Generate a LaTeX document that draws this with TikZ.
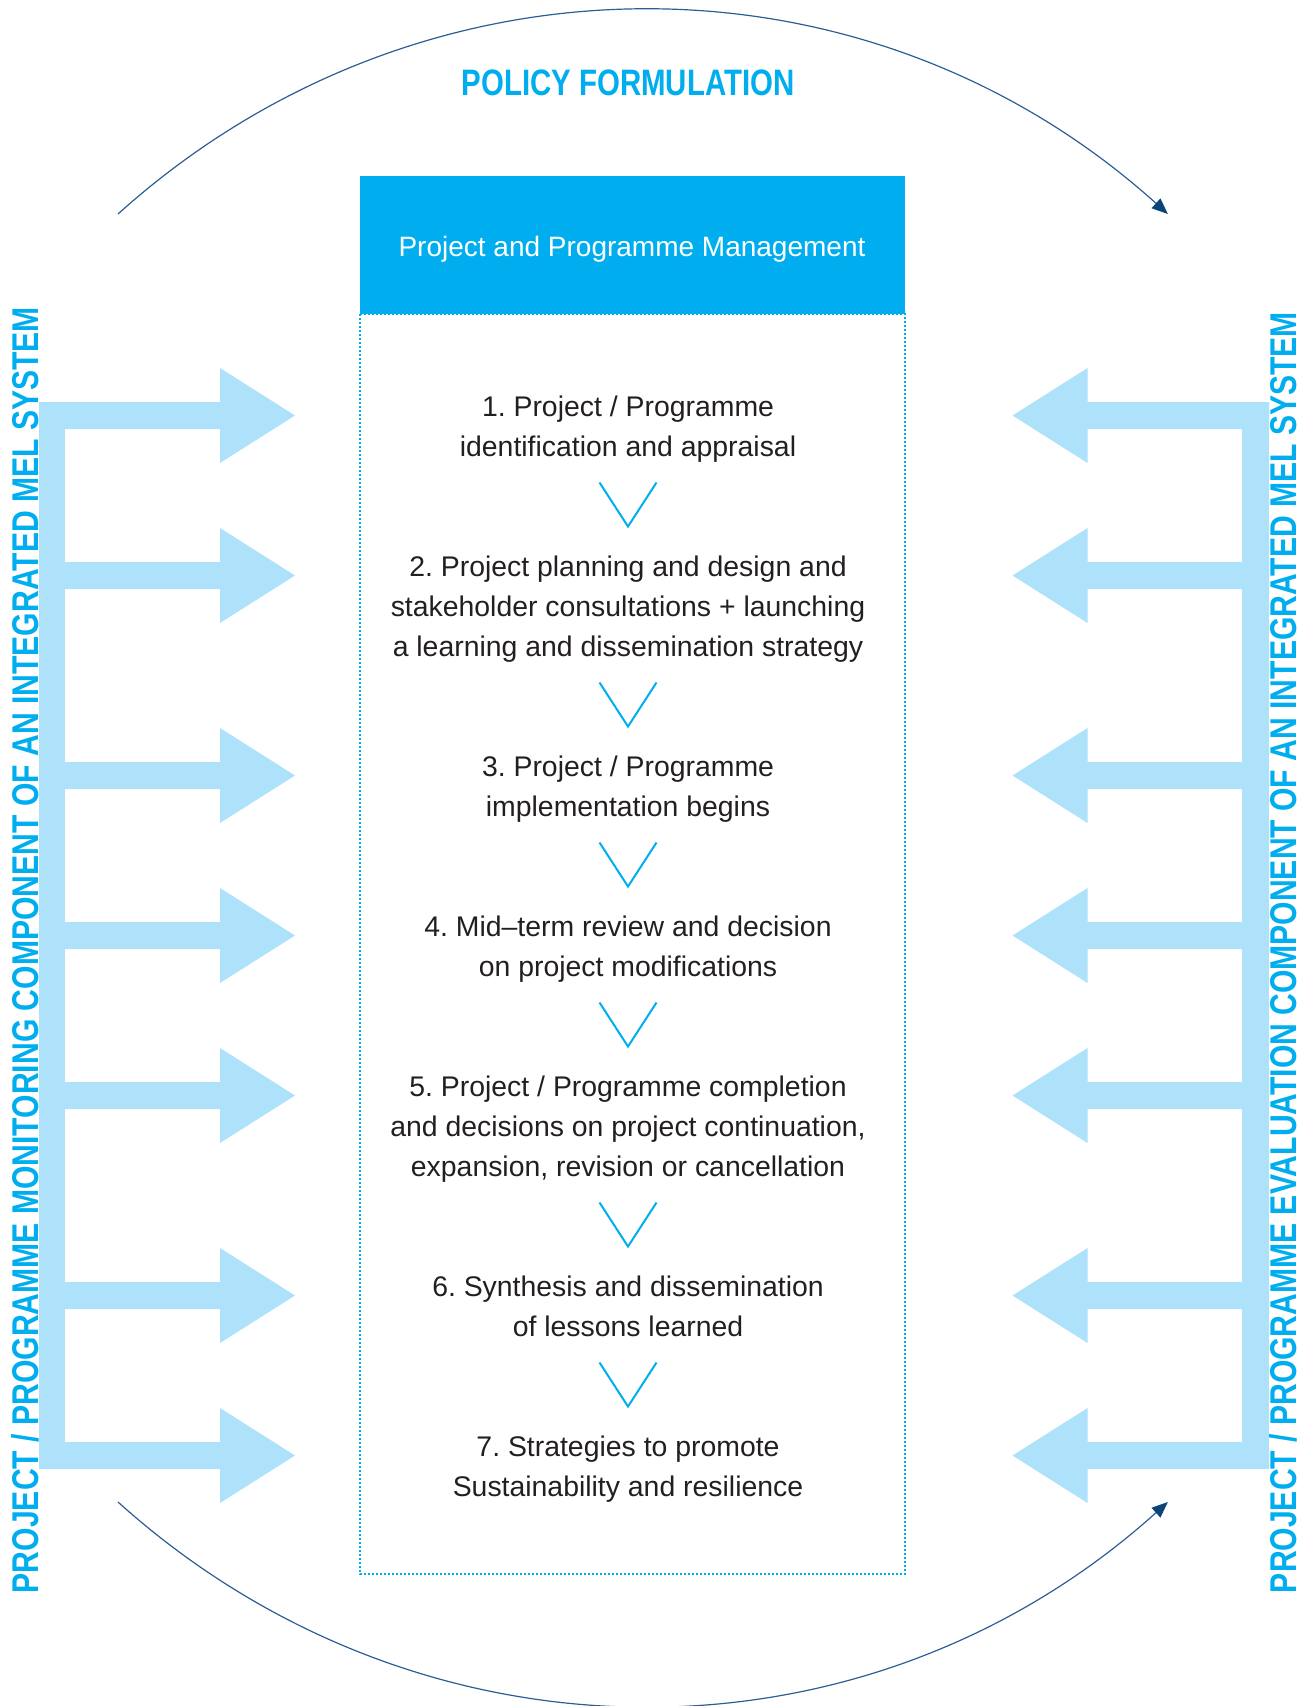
\documentclass[tikz,border=0pt]{standalone}
\usepackage{fontspec}
\setmainfont{Liberation Sans}
\usetikzlibrary{arrows.meta}
\definecolor{cyanblue}{HTML}{00AEEF}
\definecolor{lightarrow}{HTML}{AEE1FA}
\definecolor{arcblue}{HTML}{2B5E94}
\definecolor{headblue}{HTML}{0A4479}
\definecolor{txt}{HTML}{231F20}
\frenchspacing
\begin{document}
\begin{tikzpicture}[x=0.5pt,y=-0.5pt,
  steptext/.style={anchor=north, inner sep=0pt, align=center, text=txt,
    font=\fontsize{14.2pt}{20pt}\selectfont},
  chev/.style={draw=cyanblue, line width=1pt},
  cyclearc/.style={draw=arcblue, line width=0.6pt,
    -{Triangle[length=8pt,width=6.5pt,color=headblue]}},
  mel/.style={anchor=base, inner sep=0pt, rotate=90, text=cyanblue},
  fatarrow/.style={fill=lightarrow},
  dotbox/.style={draw=cyanblue, line width=0.8pt, dash pattern=on 0.8pt off 1.2pt}
  ]
\useasboundingbox (0,0) rectangle (1310,1706);

% policy cycle arcs
\coordinate (tl) at (118,214);
\coordinate (bl) at (118,1502);
\draw[cyclearc] (tl) arc[start angle=-130.58, end angle=-49.42, x radius=807, y radius=848];
\draw[cyclearc] (bl) arc[start angle=130.58, end angle=49.42, x radius=807, y radius=848];

\node[anchor=base, inner sep=0pt, text=cyanblue] (policy) at (628,95.7)
  {\resizebox{166.5pt}{12.85pt}{\bfseries POLICY FORMULATION}};

% left fat arrows (monitoring)
\fill[fatarrow] (39,401.5) rectangle (65,1468.5);
\foreach \y in {415.5,575.5,775.5,935.5,1095.5,1295.5,1455.5}{
  \fill[fatarrow] (39,\y-13.5) -- (220,\y-13.5) -- (220,\y-47.5) -- (295,\y)
    -- (220,\y+47.5) -- (220,\y+13.5) -- (39,\y+13.5) -- cycle;
}
% right fat arrows (evaluation)
\fill[fatarrow] (1242,401.5) rectangle (1269,1468.5);
\foreach \y in {415.5,575.5,775.5,935.5,1095.5,1295.5,1455.5}{
  \fill[fatarrow] (1269,\y-13.5) -- (1087.5,\y-13.5) -- (1087.5,\y-47.5) -- (1012.5,\y)
    -- (1087.5,\y+47.5) -- (1087.5,\y+13.5) -- (1269,\y+13.5) -- cycle;
}

\node[mel] (mon) at (39,950)
  {\resizebox{643pt}{13.5pt}{\bfseries PROJECT / PROGRAMME MONITORING COMPONENT OF AN INTEGRATED MEL SYSTEM}};
\node[mel] (eval) at (1296,952.5)
  {\resizebox{640.5pt}{13.5pt}{\bfseries PROJECT / PROGRAMME EVALUATION COMPONENT OF AN INTEGRATED MEL SYSTEM}};

% management box
\node[fill=cyanblue, inner sep=0pt, minimum width=272.5pt, minimum height=69pt] (hdr) at (632.5,245) {};
\node[anchor=base, inner sep=0pt, text=white, font=\fontsize{14pt}{17pt}\selectfont] (hdrtext) at (632,256.5)
  {Project and Programme Management};
\draw[dotbox] (360,314) rectangle (905,1574);

% steps
\node[steptext] (s1) at (628,395.5) {1. Project / Programme\\identification and appraisal};
\node[steptext] (s2) at (628,555.5) {2. Project planning and design and\\stakeholder consultations + launching\\a learning and dissemination strategy};
\node[steptext] (s3) at (628,755.5) {3. Project / Programme\\implementation begins};
\node[steptext] (s4) at (628,915.5) {4. Mid–term review and decision\\on project modifications};
\node[steptext] (s5) at (628,1075.5) {5. Project / Programme completion\\and decisions on project continuation,\\expansion, revision or cancellation};
\node[steptext] (s6) at (628,1275.5) {6. Synthesis and dissemination\\of lessons learned};
\node[steptext] (s7) at (628,1435.5) {7. Strategies to promote\\Sustainability and resilience};

% chevrons between steps
\foreach \t in {482.5,682.5,842.5,1002.5,1202.5,1362.5}{
  \draw[chev] (599.5,\t) -- (628,\t+44) -- (656.5,\t);
}
\end{tikzpicture}
\end{document}
